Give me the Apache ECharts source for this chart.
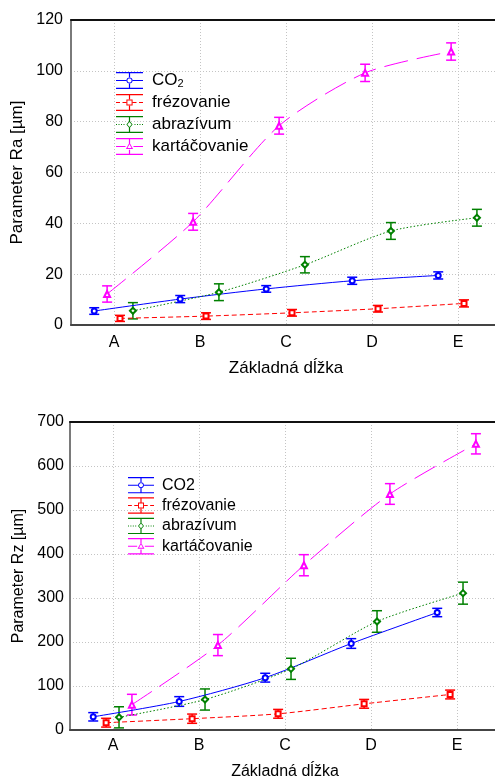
<!DOCTYPE html>
<html>
<head>
<meta charset="utf-8">
<script src="https://cdn.jsdelivr.net/npm/echarts@6/dist/echarts.min.js"></script>
<style>
html,body{margin:0;padding:0;background:#fff}
#main{width:495px;height:779px}
</style>
</head>
<body>
<div id="main"></div>
<script>
var categories = ['A', 'B', 'C', 'D', 'E']
var seriesNames = ['CO2', 'frézovanie', 'abrazívum', 'kartáčovanie']

// Parameter Ra [µm] - means and error half-widths
var raCO2 = [5.5, 10.2, 14.2, 17.4, 19.5]
var raCO2Err = [1.3, 1.4, 1.3, 1.4, 1.4]
var raFrez = [2.6, 3.5, 4.8, 6.4, 8.5]
var raFrezErr = [1.2, 1.3, 1.3, 1.3, 1.4]
var raAbraz = [5.6, 12.9, 23.7, 37.0, 42.2]
var raAbrazErr = [3.2, 3.3, 3.2, 3.3, 3.3]
var raKart = [12.2, 40.6, 78.4, 99.2, 107.6]
var raKartErr = [3.2, 3.3, 3.3, 3.4, 3.4]

// Parameter Rz [µm]
var rzCO2 = [30, 64.8, 118.9, 196.6, 267]
var rzCO2Err = [9.5, 11, 10, 11, 9.5]
var rzFrez = [16.6, 25.7, 36.8, 59.5, 80.7]
var rzFrezErr = [10, 10.5, 10, 10, 10]
var rzAbraz = [28.8, 69.3, 139, 246.6, 311]
var rzAbrazErr = [24, 24, 24, 24.5, 25]
var rzKart = [57.6, 193, 374.5, 536.4, 650.4]
var rzKartErr = [23.5, 24, 24, 23.5, 23]

var raMax = 120, raStep = 20
var rzMax = 700, rzStep = 100

var font = '"Liberation Sans", Arial, sans-serif'

// look of every series (CO2, frézovanie, abrazívum, kartáčovanie)
var looks = [
  {color: '#0000ff', symbol: 'emptyCircle', size: 5, dash: 'solid', marker: 'circle', mid: [[0, 10.3], [16.7, 27]]},
  {color: '#ff0000', symbol: 'emptyRect', size: 5, dash: [5, 3], marker: 'square', mid: [[0, 4], [6.5, 10.3], [16.7, 20.5], [23, 27]]},
  {color: '#008000', symbol: 'emptyDiamond', size: 6, dash: [1.5, 2], marker: 'diamond', mid: [[0, 1], [2.5, 3.5], [5, 6], [7.5, 8.5], [18.5, 19.5], [21, 22], [23.5, 24.5], [26, 27]]},
  {color: '#ff00ff', symbol: 'emptyTriangle', size: 6, dash: [24, 9], marker: 'triangle', mid: [[0, 9.5], [17.5, 27]]}
]

// dodge of each series around the category centre
var raShift = [-0.23, 0.07, 0.22, -0.08]
var rzShift = [-0.23, -0.08, 0.07, 0.22]

function rect(x0, y0, x1, y1) {
  return 'M' + x0 + ' ' + y0 + 'L' + x1 + ' ' + y0 + 'L' + x1 + ' ' + y1 + 'L' + x0 + ' ' + y1 + 'Z'
}

function poly(pts, rev) {
  if (rev) pts = pts.slice().reverse()
  var s = ''
  for (var i = 0; i < pts.length; i++) s += (i ? 'L' : 'M') + pts[i][0].toFixed(2) + ' ' + pts[i][1].toFixed(2)
  return s + 'Z'
}

function shapePts(kind, r) {
  var cx = 13.5, cy = 8.5, pts = []
  if (kind == 'circle') {
    for (var i = 0; i < 16; i++) {
      var a = i / 16 * Math.PI * 2
      pts.push([cx + r * Math.cos(a), cy + r * Math.sin(a)])
    }
  } else if (kind == 'square') {
    pts = [[cx - r, cy - r], [cx + r, cy - r], [cx + r, cy + r], [cx - r, cy + r]]
  } else if (kind == 'diamond') {
    pts = [[cx, cy - r * 1.2], [cx + r, cy], [cx, cy + r * 1.2], [cx - r, cy]]
  } else {
    pts = [[cx, cy - r * 1.1], [cx + r, cy + r * 0.7], [cx - r, cy + r * 0.7]]
  }
  return pts
}

// legend glyph: error bar with line and hollow marker, in a 27x17 box
function legendIcon(look) {
  var p = rect(0, 0, 27, 1.2) + rect(0, 15.8, 27, 17)
  p += rect(12.9, 0, 14.1, 5.2) + rect(12.9, 11.8, 14.1, 17)
  for (var i = 0; i < look.mid.length; i++) p += rect(look.mid[i][0], 8, look.mid[i][1], 9)
  var outer = look.marker == 'triangle' ? 3.6 : 3.1
  var inner = look.marker == 'triangle' ? 2.0 : 2.1
  p += poly(shapePts(look.marker, outer), false) + poly(shapePts(look.marker, inner), true)
  return 'path://' + p
}

function renderErr(params, api) {
  var x = api.value(0), y = api.value(1), e = api.value(2)
  var hi = api.coord([x, y + e])
  var lo = api.coord([x, y - e])
  var w = 5
  var st = {stroke: api.visual('color'), lineWidth: 1.5}
  return {
    type: 'group',
    children: [
      {type: 'line', shape: {x1: hi[0], y1: hi[1], x2: lo[0], y2: lo[1]}, style: st},
      {type: 'line', shape: {x1: hi[0] - w, y1: hi[1], x2: hi[0] + w, y2: hi[1]}, style: st},
      {type: 'line', shape: {x1: lo[0] - w, y1: lo[1], x2: lo[0] + w, y2: lo[1]}, style: st}
    ]
  }
}

function buildSeries(gi, values, shifts) {
  var out = []
  var errOut = []
  for (var s = 0; s < values.length; s++) {
    var pts = []
    var ebs = []
    for (var i = 0; i < categories.length; i++) {
      pts.push([i + 1 + shifts[s], values[s][0][i]])
      ebs.push([i + 1 + shifts[s], values[s][0][i], values[s][1][i]])
    }
    var lk = looks[s]
    out.push({
      name: seriesNames[s],
      type: 'line',
      xAxisIndex: gi * 3 + 2,
      yAxisIndex: gi,
      data: pts,
      smooth: 0.25,
      symbol: lk.symbol,
      symbolSize: lk.size,
      itemStyle: {color: lk.color, borderWidth: 1},
      lineStyle: {color: lk.color, width: 1, type: lk.dash},
      z: 4
    })
    errOut.push({
      name: 'err ' + gi + ' ' + s,
      type: 'custom',
      xAxisIndex: gi * 3 + 2,
      yAxisIndex: gi,
      data: ebs,
      encode: {x: 0, y: 1},
      itemStyle: {color: lk.color},
      renderItem: renderErr,
      z: 3
    })
  }
  return out.concat(errOut)
}

function xAxes(gi, fs, nameGap, labelMargin) {
  return [
    {
      type: 'category', gridIndex: gi, position: 'bottom', data: categories,
      name: 'Základná dĺžka', nameLocation: 'middle', nameGap: nameGap,
      nameTextStyle: {fontSize: fs, color: '#000', fontFamily: font},
      axisLine: {lineStyle: {color: '#444', width: 2}},
      axisTick: {inside: true, alignWithLabel: true, length: 4, lineStyle: {color: '#444'}},
      axisLabel: {fontSize: 16, color: '#000', margin: labelMargin, fontFamily: font},
      splitLine: {show: false}
    },
    {
      type: 'category', gridIndex: gi, position: 'top', data: categories,
      axisLine: {lineStyle: {color: '#111', width: 2}},
      axisTick: {inside: true, alignWithLabel: true, length: 4, lineStyle: {color: '#111'}},
      axisLabel: {show: false},
      splitLine: {show: false}
    },
    {
      // hidden axis that carries the dodged points and the vertical grid
      type: 'value', gridIndex: gi, min: 0.5, max: 5.5, position: 'bottom',
      axisLine: {show: false}, axisTick: {show: false}, axisLabel: {show: false},
      splitLine: {show: true, lineStyle: {color: '#c4c4c4', type: [1, 2], width: 1}}
    }
  ]
}

function makeY(gi, name, max, step, fs, nameGap, margin) {
  return {
    type: 'value', gridIndex: gi, min: 0, max: max, interval: step,
    name: name, nameLocation: 'middle', nameGap: nameGap,
    nameTextStyle: {fontSize: fs, color: '#000', fontFamily: font},
    axisLine: {show: true, lineStyle: {color: '#7a7a7a', width: 2}},
    axisTick: {show: false},
    axisLabel: {fontSize: 16, color: '#000', margin: margin, fontFamily: font},
    splitLine: {show: true, lineStyle: {color: '#c4c4c4', type: [1, 2], width: 1}}
  }
}

function legendData() {
  var arr = []
  for (var s = 0; s < seriesNames.length; s++) {
    arr.push({name: seriesNames[s], icon: legendIcon(looks[s]), itemStyle: {color: looks[s].color, borderWidth: 0}})
  }
  return arr
}

var chart = echarts.init(document.getElementById('main'))

var option = {
  animation: false,
  backgroundColor: '#fff',
  textStyle: {fontFamily: font},
  grid: [
    {left: 71, top: 20, right: -6, height: 305, outerBoundsMode: 'none'},
    {left: 70, top: 422, right: -5, height: 308, outerBoundsMode: 'none'}
  ],
  xAxis: xAxes(0, 17, 35, 10).concat(xAxes(1, 16, 34, 8)),
  yAxis: [
    makeY(0, 'Parameter Ra [µm]', raMax, raStep, 17, 45, 8),
    makeY(1, 'Parameter Rz [µm]', rzMax, rzStep, 16, 39, 6)
  ],
  legend: [
    {
      orient: 'vertical', left: 111, top: 67, itemWidth: 27, itemHeight: 17, itemGap: 5,
      selectedMode: false, data: legendData(),
      formatter: function (name) { return name == 'CO2' ? '{a|CO}{b|2}' : name },
      textStyle: {
        fontSize: 17, color: '#000', fontFamily: font, padding: [0, 0, 0, 4],
        rich: {
          a: {fontSize: 17, color: '#000', fontFamily: font},
          b: {fontSize: 11, color: '#000', fontFamily: font, verticalAlign: 'bottom', lineHeight: 10}
        }
      }
    },
    {
      orient: 'vertical', left: 123, top: 472, itemWidth: 26, itemHeight: 17, itemGap: 4,
      selectedMode: false, data: legendData(),
      textStyle: {fontSize: 16, color: '#000', fontFamily: font, padding: [0, 0, 0, 3]}
    }
  ],
  series: buildSeries(0, [[raCO2, raCO2Err], [raFrez, raFrezErr], [raAbraz, raAbrazErr], [raKart, raKartErr]], raShift)
    .concat(buildSeries(1, [[rzCO2, rzCO2Err], [rzFrez, rzFrezErr], [rzAbraz, rzAbrazErr], [rzKart, rzKartErr]], rzShift))
}

chart.setOption(option)
</script>
</body>
</html>
